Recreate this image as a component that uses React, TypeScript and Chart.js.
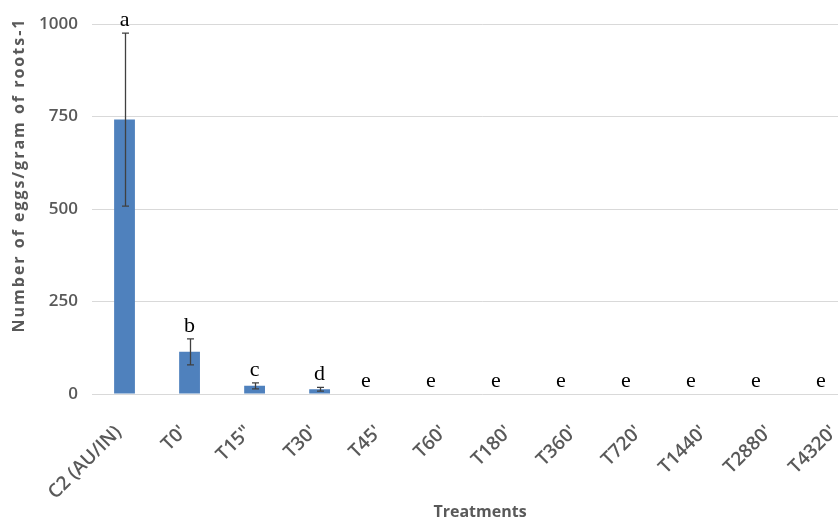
import React, { useEffect, useRef } from "react";
import { Chart, registerables } from "chart.js";

Chart.register(...registerables);

const categories = ["C2 (AU/IN)", "T0'", "T15\"", "T30'", "T45'", "T60'", "T180'", "T360'", "T720'", "T1440'", "T2880'", "T4320'"];
const eggValues = [742, 114, 22, 13, 0, 0, 0, 0, 0, 0, 0, 0];
const eggErrors = [234, 35, 8, 5, 0, 0, 0, 0, 0, 0, 0, 0];
const groupLetters = ["a", "b", "c", "d", "e", "e", "e", "e", "e", "e", "e", "e"];
const yTicks = [0, 250, 500, 750, 1000];

const GRAY = "#595959";
const Y_TICK_FONT = { family: "'Open Sans', sans-serif", size: 17, weight: 600 as any };
const X_TICK_FONT = { family: "'Open Sans', sans-serif", size: 19, weight: 600 as any };

const overlayPlugin = {
  id: "overlay",
  afterDatasetsDraw(chart: any) {
    const ctx = chart.ctx;
    const xs = chart.scales.x;
    const ys = chart.scales.y;
    ctx.save();
    // error bars
    ctx.strokeStyle = "#404040";
    ctx.lineWidth = 1.3;
    eggValues.forEach((v, i) => {
      const e = eggErrors[i];
      if (!e) return;
      const x = Math.round(xs.getPixelForValue(i)) + 0.5;
      const yt = ys.getPixelForValue(v + e);
      const yb = ys.getPixelForValue(Math.max(0, v - e));
      ctx.beginPath();
      ctx.moveTo(x, yt);
      ctx.lineTo(x, yb);
      ctx.moveTo(x - 3.5, yt);
      ctx.lineTo(x + 3.5, yt);
      ctx.moveTo(x - 3.5, yb);
      ctx.lineTo(x + 3.5, yb);
      ctx.stroke();
    });
    // letters (letters of empty bars sit just left of the category centre)
    ctx.fillStyle = "#000";
    ctx.font = "22px 'Liberation Serif', 'Times New Roman', serif";
    ctx.textBaseline = "alphabetic";
    groupLetters.forEach((l, i) => {
      const cx = xs.getPixelForValue(i);
      const y = ys.getPixelForValue(eggValues[i] + eggErrors[i]) - 7;
      if (eggValues[i] > 0) {
        ctx.textAlign = "center";
        ctx.fillText(l, cx, y);
      } else {
        ctx.textAlign = "right";
        ctx.fillText(l, cx - 14, y);
      }
    });
    // axis titles
    ctx.fillStyle = GRAY;
    ctx.font = "bold 16px 'Open Sans', sans-serif";
    ctx.textAlign = "center";
    ctx.textBaseline = "middle";
    ctx.fillText("Treatments", 480, 512);
    ctx.translate(19, 175);
    ctx.rotate(-Math.PI / 2);
    (ctx as any).letterSpacing = "2px";
    ctx.fillText("Number of eggs/gram of roots-1", 0, 0);
    ctx.restore();
  },
};

export default function App() {
  const ref = useRef<HTMLCanvasElement | null>(null);
  useEffect(() => {
    if (!ref.current) return;
    const chart = new Chart(ref.current, {
      type: "bar",
      data: {
        labels: categories,
        datasets: [
          {
            data: eggValues,
            backgroundColor: "#4F81BD",
            categoryPercentage: 1,
            barPercentage: 0.32,
          },
        ],
      },
      options: {
        responsive: false,
        animation: false,
        layout: { padding: { top: 22, left: 0, right: 0, bottom: 0 } },
        plugins: { legend: { display: false }, tooltip: { enabled: false } },
        scales: {
          x: {
            offset: true,
            grid: { display: false, drawTicks: false },
            border: { display: false },
            ticks: {
              autoSkip: false,
              minRotation: 45,
              maxRotation: 45,
              padding: 27,
              labelOffset: -6,
              color: GRAY,
              font: X_TICK_FONT,
            },
            afterFit: (s: any) => {
              s.height = 128;
            },
          },
          y: {
            min: 0,
            max: 1000,
            afterBuildTicks: (s: any) => {
              s.ticks = yTicks.map((v) => ({ value: v }));
            },
            grid: { color: "#D9D9D9", drawTicks: false, lineWidth: 1 },
            border: { display: false },
            ticks: {
              padding: 14,
              color: GRAY,
              font: Y_TICK_FONT,
              callback: (v: any) => String(v),
            },
            afterFit: (s: any) => {
              s.width = 92;
            },
          },
        },
      },
      plugins: [overlayPlugin],
    });
    return () => chart.destroy();
  }, []);
  return (
    <div style={{ position: "absolute", left: 0, top: 0, width: 838, height: 522, overflow: "hidden", background: "#fff" }}>
      <canvas ref={ref} width={883} height={522} style={{ display: "block", width: 883, height: 522 }} />
    </div>
  );
}
